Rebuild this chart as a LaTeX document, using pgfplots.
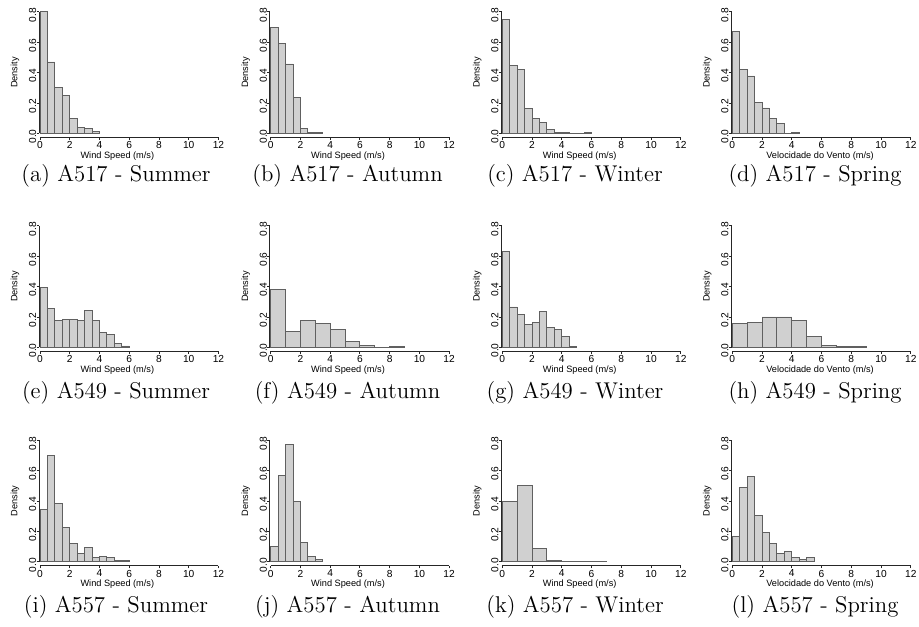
\documentclass[border=0pt]{standalone}
\usepackage{pgfplots}
\pgfplotsset{compat=1.18}
\usepackage{fontspec}
\newfontfamily\arial{Liberation Sans}
\definecolor{barfill}{HTML}{D0D0D0}
\definecolor{baredge}{HTML}{606060}
\pgfplotsset{
  hstyle/.style={
    scale only axis, width=89.6pt, height=62.7pt,
    xmin=-0.05, xmax=12, ymin=-0.026, ymax=0.8,
    axis line style={draw=none}, clip=false,
    xtick={0,2,...,12}, ytick={0,0.2,...,0.8},
    xtick pos=bottom, ytick pos=left, tick align=outside,
    major tick length=1.3pt, tick style={black!85, line width=0.45pt},
    /pgf/number format/assume math mode=true,
    ticklabel style={font=\arial\fontsize{5.1}{5.5}\selectfont, inner sep=0pt},
    yticklabel style={rotate=90, anchor=south, xshift=-1.6pt,
      /pgf/number format/.cd, fixed, fixed zerofill, precision=1},
    xticklabel style={anchor=north, yshift=-0.6pt},
    label style={font=\arial\fontsize{4.6}{5}\selectfont, inner sep=0pt},
    ylabel={Density},
    ylabel style={at={(axis cs:-1.68,0.4)}, anchor=center},
    xlabel style={at={(axis cs:5.2,-0.15)}, anchor=center},
    xlabel={Wind Speed (m/s)},
    execute at end axis={
      \draw[black!85, line width=0.5pt] (axis cs:-0.05,0) -- (axis cs:-0.05,0.8);
      \draw[black!85, line width=0.5pt] (axis cs:0,-0.026) -- (axis cs:12,-0.026);
    },
  },
  hbar/.style={ybar interval, fill=barfill, draw=baredge, line width=0.45pt},
}
\begin{document}
\begin{tikzpicture}
\path (0,0) rectangle (459.5pt,313pt);
% Row 1
\begin{axis}[hstyle, at={(19.63pt,244.35pt)}, anchor=south west]
\addplot[hbar] coordinates {(0,0.80) (0.5,0.47) (1,0.303) (1.5,0.25) (2,0.099) (2.5,0.04) (3,0.033) (3.5,0.013) (4,0)};
\end{axis}
\begin{axis}[hstyle, at={(134.98pt,244.35pt)}, anchor=south west]
\addplot[hbar] coordinates {(0,0.70) (0.5,0.589) (1,0.457) (1.5,0.237) (2,0.029) (2.5,0.007) (3,0.007) (3.5,0)};
\end{axis}
\begin{axis}[hstyle, at={(250.78pt,244.35pt)}, anchor=south west]
\addplot[hbar] coordinates {(0,0.752) (0.5,0.444) (1,0.422) (1.5,0.165) (2,0.099) (2.5,0.073) (3,0.026) (3.5,0.007) (4,0.007) (4.5,0) (5,0) (5.5,0.007) (6,0)};
\end{axis}
\begin{axis}[hstyle, at={(365.78pt,244.35pt)}, anchor=south west,
  xlabel={Velocidade do Vento (m/s)}, xlabel style={at={(axis cs:5.9,-0.15)}}]
\addplot[hbar] coordinates {(0,0.673) (0.5,0.422) (1,0.378) (1.5,0.202) (2,0.167) (2.5,0.101) (3,0.066) (3.5,0) (4,0.007) (4.5,0)};
\end{axis}
% Row 2
\begin{axis}[hstyle, at={(19.63pt,137.35pt)}, anchor=south west]
\addplot[hbar] coordinates {(0,0.392) (0.5,0.259) (1,0.177) (1.5,0.183) (2,0.183) (2.5,0.177) (3,0.242) (3.5,0.177) (4,0.098) (4.5,0.083) (5,0.026) (5.5,0.009) (6,0)};
\end{axis}
\begin{axis}[hstyle, at={(134.98pt,137.35pt)}, anchor=south west]
\addplot[hbar] coordinates {(0,0.379) (1,0.105) (2,0.179) (3,0.157) (4,0.118) (5,0.039) (6,0.013) (7,0) (8,0.007) (9,0)};
\end{axis}
\begin{axis}[hstyle, at={(250.78pt,137.35pt)}, anchor=south west]
\addplot[hbar] coordinates {(0,0.632) (0.5,0.266) (1,0.216) (1.5,0.150) (2,0.163) (2.5,0.235) (3,0.133) (3.5,0.118) (4,0.072) (4.5,0.007) (5,0)};
\end{axis}
\begin{axis}[hstyle, at={(365.78pt,137.35pt)}, anchor=south west,
  xlabel={Velocidade do Vento (m/s)}, xlabel style={at={(axis cs:5.9,-0.15)}}]
\addplot[hbar] coordinates {(0,0.157) (1,0.163) (2,0.200) (3,0.200) (4,0.177) (5,0.072) (6,0.013) (7,0.007) (8,0.007) (9,0)};
\end{axis}
% Row 3
\begin{axis}[hstyle, at={(19.63pt,30.15pt)}, anchor=south west]
\addplot[hbar] coordinates {(0,0.344) (0.5,0.699) (1,0.384) (1.5,0.226) (2,0.118) (2.5,0.053) (3,0.092) (3.5,0.028) (4,0.035) (4.5,0.028) (5,0.009) (5.5,0.009) (6,0)};
\end{axis}
\begin{axis}[hstyle, at={(134.98pt,30.15pt)}, anchor=south west]
\addplot[hbar] coordinates {(0,0.101) (0.5,0.570) (1,0.772) (1.5,0.397) (2,0.125) (2.5,0.033) (3,0.015) (3.5,0)};
\end{axis}
\begin{axis}[hstyle, at={(250.78pt,30.15pt)}, anchor=south west]
\addplot[hbar] coordinates {(0,0.399) (1,0.502) (2,0.088) (3,0.007) (4,0.004) (5,0.004) (6,0.004) (7,0)};
\end{axis}
\begin{axis}[hstyle, at={(365.78pt,30.15pt)}, anchor=south west,
  xlabel={Velocidade do Vento (m/s)}, xlabel style={at={(axis cs:5.9,-0.15)}}]
\addplot[hbar] coordinates {(0,0.164) (0.5,0.489) (1,0.559) (1.5,0.305) (2,0.191) (2.5,0.118) (3,0.053) (3.5,0.068) (4,0.028) (4.5,0.015) (5,0.028) (5.5,0)};
\end{axis}
% Captions
\begin{scope}[every node/.style={font=\fontsize{11.4}{13}\selectfont, inner sep=0pt}]
\node at (58pt,225pt) {(a) A517 - Summer};
\node at (173.75pt,225pt) {(b) A517 - Autumn};
\node at (287.5pt,225pt) {(c) A517 - Winter};
\node at (407.5pt,225pt) {(d) A517 - Spring};
\node at (58pt,116.5pt) {(e) A549 - Summer};
\node at (173.75pt,116.5pt) {(f) A549 - Autumn};
\node at (287.5pt,116.5pt) {(g) A549 - Winter};
\node at (407.5pt,116.5pt) {(h) A549 - Spring};
\node at (58pt,9.5pt) {(i) A557 - Summer};
\node at (173.75pt,9.5pt) {(j) A557 - Autumn};
\node at (287.5pt,9.5pt) {(k) A557 - Winter};
\node at (407.5pt,9.5pt) {(l) A557 - Spring};
\end{scope}
\end{tikzpicture}
\end{document}
